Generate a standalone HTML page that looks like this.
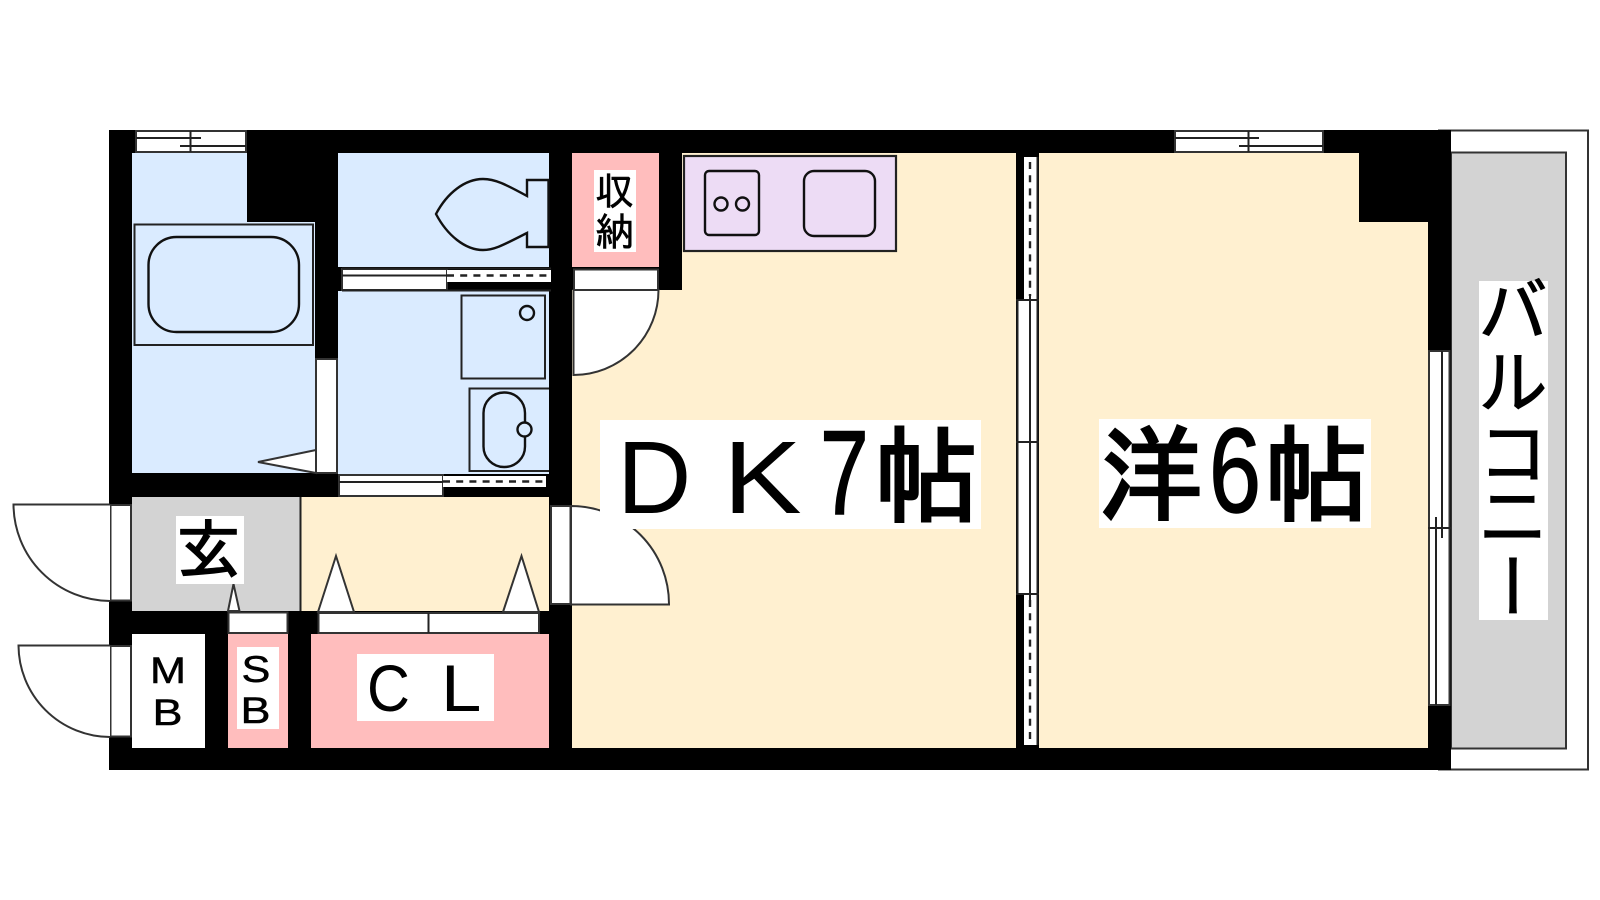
<!DOCTYPE html>
<html><head><meta charset="utf-8"><style>
html,body{margin:0;padding:0;background:#fff;width:1600px;height:900px;overflow:hidden}
svg{display:block}
.l{fill:none;stroke:#222;stroke-width:2}
.t{fill:none;stroke:#111;stroke-width:2.4}
.w{fill:#fff;stroke:#333;stroke-width:2}
.a{font-family:"Liberation Sans",sans-serif;fill:#000}
.j{font-family:"IPAGothic","Noto Sans CJK JP",sans-serif;fill:#000}
.n{font-family:"Noto Sans CJK JP","IPAGothic",sans-serif;fill:#000}
</style></head><body>
<svg width="1600" height="900" viewBox="0 0 1600 900" xmlns="http://www.w3.org/2000/svg">
<rect width="1600" height="900" fill="#fff"/>
<!-- balcony -->
<rect x="1439" y="130.500" width="149" height="639" class="w"/>
<rect x="1451" y="152.500" width="115" height="596" fill="#d3d3d3" stroke="#333" stroke-width="2"/>
<!-- building -->
<rect x="109" y="130" width="1342" height="640" fill="#000"/>
<!-- rooms -->
<path d="M132 153H247V222H315V473H132Z" fill="#daebff"/>
<rect x="338" y="153" width="211" height="114" fill="#daebff"/>
<rect x="338" y="291" width="211" height="183" fill="#daebff"/>
<rect x="572" y="153" width="87" height="114" fill="#ffbdbd"/>
<path d="M682 153H1016V748H572V290H682Z" fill="#fff0d0"/>
<path d="M1039 153H1359V222H1428V748H1039Z" fill="#fff0d0"/>
<rect x="132" y="497" width="168" height="114" fill="#d3d3d3"/>
<rect x="301" y="497" width="248" height="114" fill="#fff0d0"/>
<line x1="300.500" y1="497" x2="300.500" y2="611" class="l"/>
<rect x="132" y="634" width="73" height="114" fill="#fff"/>
<rect x="228" y="634" width="60" height="114" fill="#ffbdbd"/>
<rect x="311" y="634" width="238" height="114" fill="#ffbdbd"/>
<!-- top windows -->
<rect x="136" y="131" width="110" height="21" class="w"/>
<path d="M190.500 131V152M136 138H201M180 146H246" class="l"/>
<rect x="1175" y="131" width="148" height="21" class="w"/>
<path d="M1248.500 131V152M1175 138H1259M1239 146H1323" class="l"/>
<!-- bath -->
<rect x="134.500" y="224.500" width="178.500" height="120.500" class="l"/>
<rect x="148.500" y="237" width="150.500" height="95" rx="28" class="t"/>
<rect x="316" y="359" width="21" height="114" class="w"/>
<path d="M258 462L316 450V473Z" class="w"/>
<!-- toilet -->
<path d="M527 196V180H548.500V247H527V233C505 244 495 250 483 250C465 250 447 235 436 214C447 193 465 179 483 179C495 179 505 184 527 196Z" class="t"/>
<!-- toilet door -->
<rect x="342" y="269" width="105" height="21" class="w"/>
<rect x="447" y="270" width="104" height="12" fill="#fff"/>
<path d="M342 268.500H551M342 275.500H447M342 290.500H551" class="l"/>
<line x1="447" y1="275.500" x2="551" y2="275.500" stroke="#222" stroke-width="2.400" stroke-dasharray="7 6.200"/>
<!-- shower pan and basin -->
<rect x="461.500" y="295.500" width="83.500" height="83" class="l"/>
<circle cx="527" cy="313" r="7" class="t"/>
<path d="M549 388.500H469.500V471H549" class="l"/>
<rect x="483.500" y="392.500" width="41.500" height="74.500" rx="20.500" class="t"/>
<circle cx="524.500" cy="429.500" r="7" fill="#daebff" stroke="#111" stroke-width="2.400"/>
<!-- wash door -->
<rect x="339" y="475" width="104" height="21" class="w"/>
<rect x="443" y="476" width="103" height="11" fill="#fff"/>
<path d="M339 482H443" class="l"/>
<line x1="443" y1="481.500" x2="546" y2="481.500" stroke="#222" stroke-width="2.400" stroke-dasharray="7 6.200"/>
<!-- closet door -->
<rect x="574" y="269.500" width="84" height="20.500" class="w"/>
<path d="M573.500 290H658.500A85 85 0 0 1 573.500 375Z" class="w"/>
<!-- kitchen -->
<rect x="684" y="156" width="212" height="95" fill="#eddcf5" stroke="#222" stroke-width="2.200"/>
<rect x="705" y="171" width="54" height="64" rx="4" class="t"/>
<circle cx="721" cy="204" r="6.500" class="t"/>
<circle cx="742.500" cy="204" r="6.500" class="t"/>
<rect x="804" y="171" width="71" height="65" rx="10" class="t"/>
<!-- front doors -->
<rect x="110.500" y="505" width="20.500" height="95.500" class="w"/>
<path d="M110 504.500H13.500A97 97 0 0 0 110 601" class="w"/>
<rect x="110.500" y="646" width="20.500" height="90.500" class="w"/>
<path d="M110 645.500H18.500A92 92 0 0 0 110 737" class="w"/>
<!-- SB door -->
<path d="M228 611L233.500 584L239.500 611Z" class="w"/>
<rect x="228.500" y="612.500" width="59" height="20.500" class="w"/>
<!-- CL door -->
<path d="M318 612L336 556L354 612Z" class="w"/>
<path d="M503 612L521.500 556L539 612Z" class="w"/>
<rect x="318.500" y="613" width="220.500" height="20" class="w"/>
<line x1="428.500" y1="613" x2="428.500" y2="633" class="l"/>
<!-- DK door -->
<rect x="551" y="506" width="19.500" height="98" class="w"/>
<path d="M571 506A98 98 0 0 1 669 604.500H571Z" class="w"/>
<!-- partition -->
<rect x="1016" y="153" width="23" height="4" fill="#000"/>
<rect x="1016" y="745" width="23" height="3" fill="#000"/>
<rect x="1017" y="157" width="7" height="143" fill="#000"/>
<rect x="1024" y="157" width="13" height="143" fill="#fff"/>
<rect x="1017" y="594" width="7" height="151" fill="#000"/>
<rect x="1024" y="594" width="13" height="151" fill="#fff"/>
<rect x="1018" y="300" width="19.500" height="294" fill="#fff"/>
<path d="M1017.500 300V594M1037.500 157V745M1016 300H1039M1016 442H1039M1016 594H1039M1030 296V600" class="l"/>
<line x1="1030" y1="162" x2="1030" y2="296" stroke="#222" stroke-width="2.400" stroke-dasharray="7 6.200"/>
<line x1="1030" y1="600" x2="1030" y2="745" stroke="#222" stroke-width="2.400" stroke-dasharray="7 6.200"/>
<!-- balcony door -->
<rect x="1429" y="351" width="20.500" height="354" class="w"/>
<path d="M1442 351V538M1436 517V705M1428 528H1451" class="l"/>
<!-- labels -->
<rect x="594" y="170" width="42" height="82" fill="#fff"/>
<text x="595" y="205" font-size="39" class="j" stroke="#000" stroke-width=".6">収</text>
<text x="595" y="246" font-size="39" class="j" stroke="#000" stroke-width=".6">納</text>
<rect x="176" y="516" width="68" height="68" fill="#fff"/>
<text x="176" y="573" font-size="65" class="j" stroke="#000" stroke-width="1.500">玄</text>
<text transform="translate(150 683) scale(1.2 1.03)" font-size="36" class="a" stroke="#000" stroke-width=".5">M</text>
<text transform="translate(152.500 725) scale(1.25 1.03)" font-size="36" class="a" stroke="#000" stroke-width=".5">B</text>
<rect x="237" y="647" width="42" height="82" fill="#fff"/>
<text transform="translate(241.500 682) scale(1.2 1.03)" font-size="36" class="a" stroke="#000" stroke-width=".5">S</text>
<text transform="translate(240.500 723) scale(1.25 1.03)" font-size="36" class="a" stroke="#000" stroke-width=".5">B</text>
<rect x="357" y="654" width="137" height="67" fill="#fff"/>
<text transform="translate(367 711) scale(.9 1)" font-size="66" class="a">C</text>
<text transform="translate(441 711) scale(1.1 1)" font-size="66" class="a">L</text>
<rect x="600" y="420" width="381" height="109" fill="#fff"/>
<text x="617" y="513" font-size="103" class="a">D</text>
<text transform="translate(723 513) scale(1.145 1)" font-size="103" class="a">K</text>
<text transform="translate(820 514) scale(.73 1)" font-size="120" class="a" stroke="#000" stroke-width="1.500">7</text>
<text x="874" y="514" font-size="105" class="j" stroke="#000" stroke-width="3">帖</text>
<rect x="1099" y="419" width="272" height="109" fill="#fff"/>
<text x="1099" y="512" font-size="104" class="j" stroke="#000" stroke-width="3">洋</text>
<text transform="translate(1209 512) scale(.78 1)" font-size="120" class="a" stroke="#000" stroke-width="1.500">6</text>
<text x="1264" y="513" font-size="105" class="j" stroke="#000" stroke-width="3">帖</text>
<rect x="1479" y="281" width="69" height="339" fill="#fff"/>
<text x="1478.500" y="335" font-size="69" class="n" stroke="#000" stroke-width="1">バ</text>
<text x="1478.500" y="407" font-size="69" class="n" stroke="#000" stroke-width="1">ル</text>
<text x="1478.500" y="478" font-size="69" class="n" stroke="#000" stroke-width="1">コ</text>
<text x="1478.500" y="541" font-size="69" class="n" stroke="#000" stroke-width="1">ニ</text>
<text transform="translate(1505 551) rotate(90)" font-size="69" class="n" stroke="#000" stroke-width="1" style="dominant-baseline:middle">ー</text>
</svg>
</body></html>
